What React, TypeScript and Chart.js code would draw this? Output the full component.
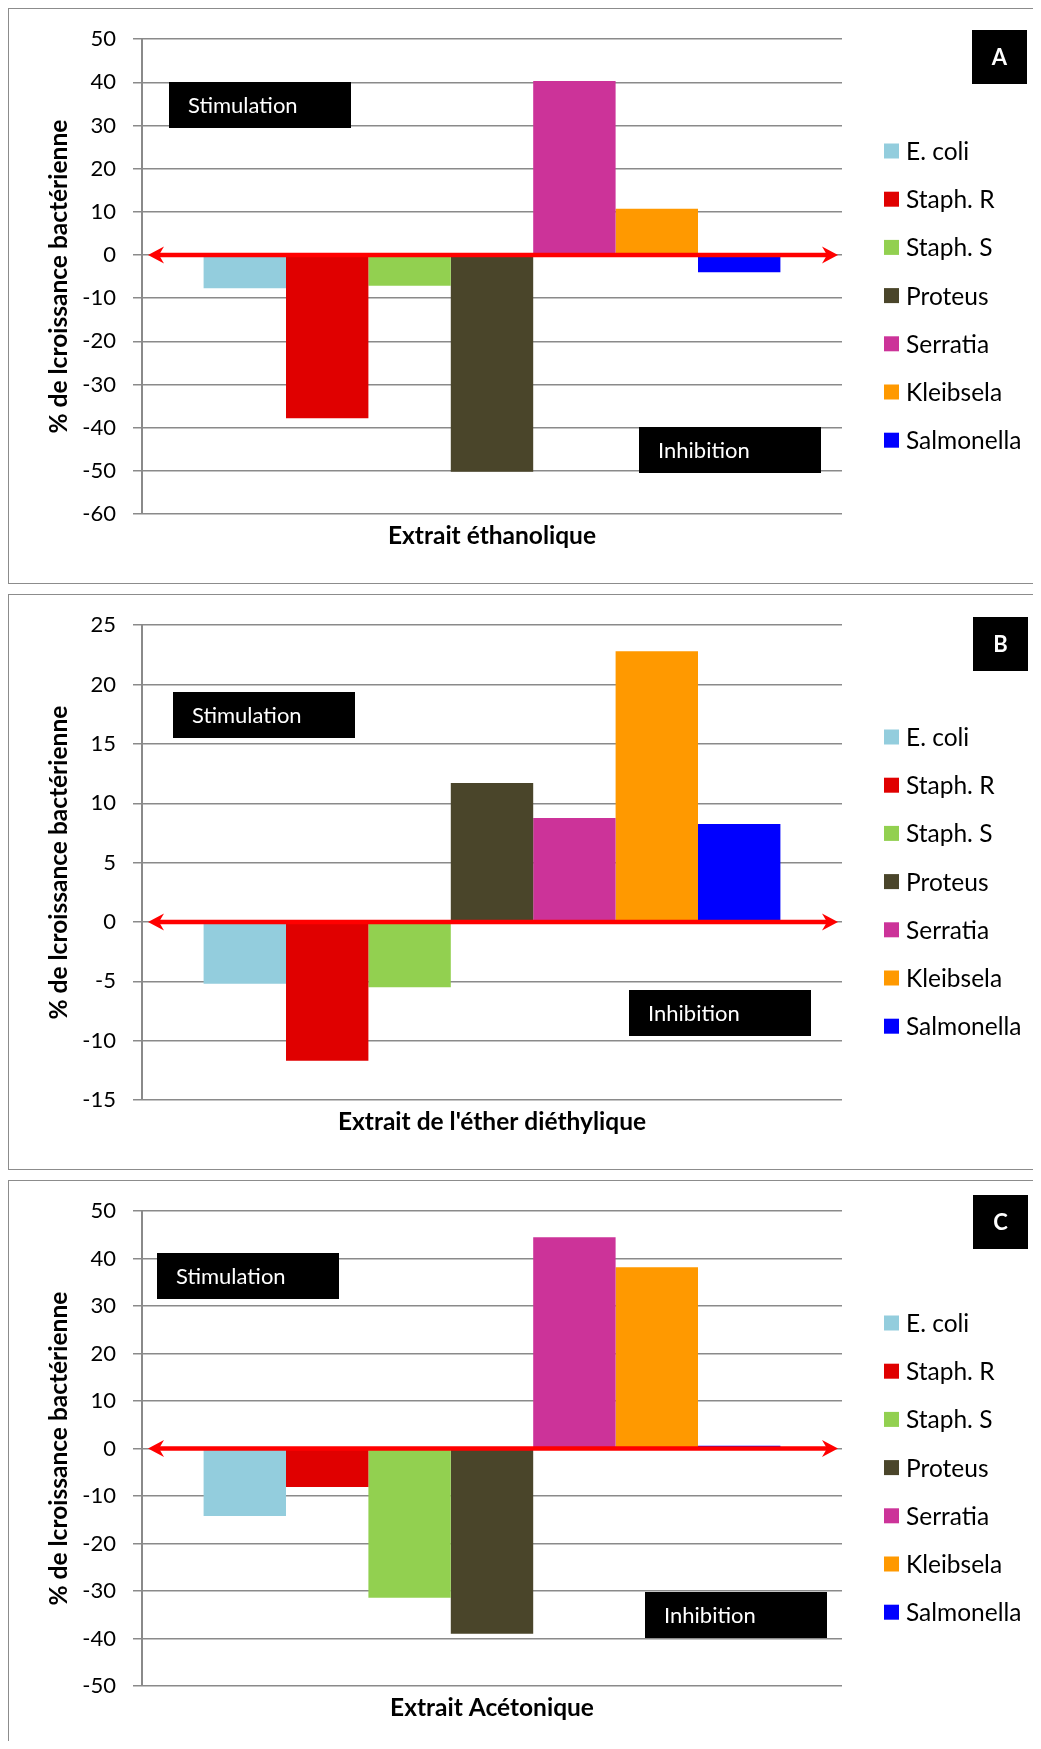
import { useEffect, useRef } from "react";
import { Chart, registerables } from "chart.js";

Chart.register(...registerables);

// Bacterial strains (one bar each) and the extracts tested.
const SERIES_NAMES = ["E. coli", "Staph. R", "Staph. S", "Proteus", "Serratia", "Kleibsela", "Salmonella"];
const EXTRACT_LABELS = ["Extrait éthanolique", "Extrait de l'éther diéthylique", "Extrait Acétonique"];
const PANEL_LETTERS = ["A", "B", "C"];

// % change in bacterial growth per strain, one list per extract.
const ETHANOLIC_VALUES = [-7.7, -37.8, -7.1, -50.2, 40.3, 10.7, -4.0];
const DIETHYL_ETHER_VALUES = [-5.2, -11.7, -5.5, 11.7, 8.75, 22.8, 8.25];
const ACETONIC_VALUES = [-14.2, -8.1, -31.4, -39.0, 44.5, 38.2, 0.6];

// Value-axis ranges per panel.
const Y_MIN = [-60, -15, -50];
const Y_MAX = [50, 25, 50];
const Y_STEP = [10, 5, 10];

const Y_TITLE = "% de lcroissance bactérienne";
const STIMULATION_TEXT = "Stimulation";
const INHIBITION_TEXT = "Inhibition";

const PANEL_VALUES = [ETHANOLIC_VALUES, DIETHYL_ETHER_VALUES, ACETONIC_VALUES];

// Styling
const SERIES_COLORS = ["#93CDDD", "#E00000", "#92D050", "#4A452A", "#CC3399", "#FF9900", "#0000FF"];
const FONT = "Lato";
const GRID_COLOR = "#8a8a8a";
const CANVAS_W = 1032;
const CANVAS_H = 574;
const TITLE_SIZE = 24.5;
const LEGEND_SIZE = 24.5;

// Label-box placement inside each panel canvas (x, y of top-left corner).
const BOX_LAYOUT = [
  { stim: [160, 73], inhib: [630, 418], letter: [963, 21] },
  { stim: [164, 97], inhib: [620, 395], letter: [964, 22] },
  { stim: [148, 72], inhib: [636, 411], letter: [964, 14] },
];

const panelDecorations = {
  id: "panelDecorations",
  afterDatasetsDraw(chart: any, _args: any, opts: any) {
    const { ctx, chartArea, scales } = chart;
    const y0 = scales.y.getPixelForValue(0);
    ctx.save();

    // Double-headed red arrow along the zero line
    const xl = chartArea.left + 6;
    const xr = chartArea.right - 4;
    ctx.strokeStyle = "#FF0000";
    ctx.fillStyle = "#FF0000";
    ctx.lineWidth = 4.5;
    ctx.beginPath();
    ctx.moveTo(xl + 8, y0);
    ctx.lineTo(xr - 8, y0);
    ctx.stroke();
    const head = (tipX: number, dir: number) => {
      ctx.beginPath();
      ctx.moveTo(tipX, y0);
      ctx.lineTo(tipX - dir * 16, y0 - 8.5);
      ctx.lineTo(tipX - dir * 11, y0);
      ctx.lineTo(tipX - dir * 16, y0 + 8.5);
      ctx.closePath();
      ctx.fill();
    };
    head(xl, -1);
    head(xr, 1);

    // Black annotation boxes
    const drawBox = (x: number, y: number, text: string) => {
      ctx.fillStyle = "#000";
      ctx.fillRect(x, y, 182, 46);
      ctx.fillStyle = "#fff";
      ctx.font = `22px ${FONT}`;
      ctx.textAlign = "left";
      ctx.textBaseline = "middle";
      ctx.fillText(text, x + 19, y + 24);
    };
    drawBox(opts.stim[0], opts.stim[1], STIMULATION_TEXT);
    drawBox(opts.inhib[0], opts.inhib[1], INHIBITION_TEXT);

    // Panel letter
    ctx.fillStyle = "#000";
    ctx.fillRect(opts.letter[0], opts.letter[1], 55, 54);
    ctx.fillStyle = "#fff";
    ctx.font = `bold 22px ${FONT}`;
    ctx.textAlign = "center";
    ctx.textBaseline = "middle";
    ctx.fillText(opts.letterText, opts.letter[0] + 27.5, opts.letter[1] + 28);

    // Legend column
    ctx.font = `${LEGEND_SIZE}px ${FONT}`;
    ctx.textAlign = "left";
    ctx.textBaseline = "middle";
    chart.data.datasets.forEach((ds: any, i: number) => {
      const cy = 142 + i * 48.2;
      ctx.fillStyle = ds.backgroundColor;
      ctx.fillRect(875, cy - 7.5, 15, 15);
      ctx.fillStyle = "#000";
      ctx.fillText(ds.label, 897, cy + 1);
    });

    ctx.restore();
  },
};

function Panel({ index }: { index: number }) {
  const ref = useRef<HTMLCanvasElement | null>(null);

  useEffect(() => {
    if (!ref.current) return;
    const values = PANEL_VALUES[index];
    const chart = new Chart(ref.current, {
      type: "bar",
      data: {
        labels: [EXTRACT_LABELS[index]],
        datasets: SERIES_NAMES.map((name, k) => ({
          label: name,
          data: [values[k]],
          backgroundColor: SERIES_COLORS[k],
          borderWidth: 0,
          categoryPercentage: 0.824,
          barPercentage: 1,
        })),
      },
      options: {
        responsive: false,
        animation: false,
        devicePixelRatio: 1,
        layout: { padding: { left: 0, top: 28.5, right: CANVAS_W - 833, bottom: 0 } },
        plugins: {
          legend: { display: false },
          tooltip: { enabled: false },
          panelDecorations: {
            ...BOX_LAYOUT[index],
            letterText: PANEL_LETTERS[index],
          },
        } as any,
        scales: {
          x: {
            grid: { display: false, drawTicks: false },
            border: { display: false },
            ticks: {
              color: "#000",
              font: { family: FONT, size: TITLE_SIZE, weight: "bold" },
              padding: 7,
            },
            afterFit: (s: any) => {
              s.height = CANVAS_H - 505;
            },
          },
          y: {
            min: Y_MIN[index],
            max: Y_MAX[index],
            ticks: {
              stepSize: Y_STEP[index],
              color: "#000",
              font: { family: FONT, size: 22 },
              padding: 17,
            },
            grid: { color: GRID_COLOR, lineWidth: 1.5, tickLength: 9 },
            border: { display: true, color: GRID_COLOR, width: 2 },
            title: {
              display: true,
              text: Y_TITLE,
              color: "#000",
              font: { family: FONT, size: TITLE_SIZE, weight: "bold" },
              padding: { top: 35, bottom: 0 },
            },
            afterFit: (s: any) => {
              s.width = 133;
            },
          },
        },
      } as any,
      plugins: [panelDecorations],
    });
    return () => chart.destroy();
  }, [index]);

  return (
    <div
      style={{
        width: 1040,
        height: 576,
        boxSizing: "border-box",
        border: "1px solid #8c8c8c",
        marginBottom: 10,
        background: "#fff",
        overflow: "hidden",
      }}
    >
      <canvas ref={ref} width={CANVAS_W} height={CANVAS_H} style={{ display: "block" }} />
    </div>
  );
}

export default function App() {
  return (
    <div style={{ width: 1033, height: 1733, overflow: "hidden", background: "#fff" }}>
      {PANEL_LETTERS.map((_, i) => (
        <Panel key={i} index={i} />
      ))}
    </div>
  );
}
